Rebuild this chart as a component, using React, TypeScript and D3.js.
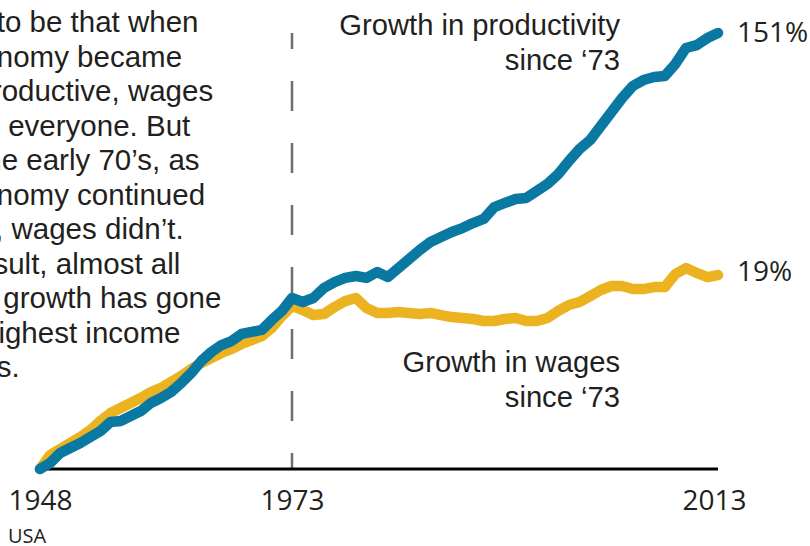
import React, { useEffect, useRef } from "react";
import * as d3 from "d3";

// years shown, 1948..2013
const years: number[] = [
  1948, 1949, 1950, 1951, 1952, 1953, 1954, 1955, 1956, 1957, 1958, 1959, 1960,
  1961, 1962, 1963, 1964, 1965, 1966, 1967, 1968, 1969, 1970, 1971, 1972, 1973,
  1974, 1975, 1976, 1977, 1978, 1979, 1980, 1981, 1982, 1983, 1984, 1985, 1986,
  1987, 1988, 1989, 1990, 1991, 1992, 1993, 1994, 1995, 1996, 1997, 1998, 1999,
  2000, 2001, 2002, 2003, 2004, 2005, 2006, 2007, 2008, 2009, 2010, 2011, 2012,
  2013,
];

// cumulative % change since 1948
const productivity: number[] = [
  0, 3.3, 8.9, 11.7, 14.5, 17.8, 21.2, 26.2, 26.8, 29.5, 32.3, 36.8, 39.6,
  42.9, 47.9, 53.5, 60.2, 65.2, 69.1, 71.3, 75.3, 76.4, 77.5, 83.1, 88.1, 95.3,
  93.1, 95.3, 100.9, 104.2, 106.5, 107.6, 106.5, 109.8, 107.0, 112.0, 117.1, 122.1, 126.5,
  129.3, 132.1, 134.3, 137.1, 139.4, 146.0, 148.3, 150.5, 151.1, 155.0, 158.9, 164.4, 171.7,
  178.4, 183.4, 191.2, 199.0, 206.8, 213.5, 216.8, 218.5, 219.1, 225.8, 234.7, 236.3, 240.2,
  243.0,
];

const wages: number[] = [
  0, 7.8, 11.1, 14.5, 17.8, 21.7, 26.8, 31.2, 34.0, 36.8, 39.6, 42.9, 45.2,
  48.5, 51.8, 55.7, 59.1, 61.9, 64.7, 66.9, 69.7, 71.9, 74.1, 78.6, 85.3, 90.9,
  88.6, 85.8, 86.4, 90.3, 93.6, 95.3, 89.7, 87.0, 87.0, 87.5, 87.0, 86.4, 87.0,
  85.8, 84.7, 84.2, 83.6, 82.5, 82.5, 83.6, 84.2, 82.5, 82.5, 84.2, 88.1, 91.4,
  93.1, 96.4, 99.8, 102.0, 102.0, 100.3, 100.3, 101.4, 101.4, 108.7, 112.0, 109.3, 107.0,
  108.1,
];

const tickYears: number[] = [1948, 1973, 2013];
const endLabels: string[] = ["151%", "19%"];
const seriesLabels: string[][] = [
  ["Growth in productivity", "since \u201873"],
  ["Growth in wages", "since \u201873"],
];
const paragraph: string[] = [
  "It used to be that when",
  "the economy became",
  "more productive, wages",
  "rose for everyone. But",
  "since the early 70\u2019s, as",
  "the economy continued",
  "to grow, wages didn\u2019t.",
  "As a result, almost all",
  "income growth has gone",
  "to the highest income",
  "brackets.",
];

export default function App() {
  const svgRef = useRef<SVGSVGElement>(null);

  useEffect(() => {
    const width = 810;
    const height = 546;
    const svg = d3.select(svgRef.current);
    svg.selectAll("*").remove();
    svg.attr("width", width).attr("height", height);

    const textColor = "#231f20";
    const blue = "#0a79a2";
    const yellow = "#ebb31f";

    // x: the source stretches the post-1973 part slightly
    const x = d3.scaleLinear().domain([1948, 1973, 2013]).range([40, 292, 718]);
    const y = d3.scaleLinear().domain([0, 250]).range([469, 20.5]);

    // intro text, cut off at the left edge like the original
    svg.append("g")
      .selectAll("text")
      .data(paragraph)
      .enter()
      .append("text")
      .attr("x", -100)
      .attr("y", (d, i) => 32 + i * 34.5)
      .attr("font-family", "'Liberation Sans', Arial, sans-serif")
      .attr("font-size", 29.5)
      .attr("fill", textColor)
      .text(d => d);

    // 1973 marker
    svg.append("line")
      .attr("x1", x(1973))
      .attr("x2", x(1973))
      .attr("y1", y(0))
      .attr("y2", 33)
      .attr("stroke", "#6d6e70")
      .attr("stroke-width", 2.5)
      .attr("stroke-dasharray", "30 32")
      .attr("stroke-dashoffset", 14);

    // baseline
    svg.append("line")
      .attr("x1", x(1948))
      .attr("x2", x(2013))
      .attr("y1", y(0))
      .attr("y2", y(0))
      .attr("stroke", "#000")
      .attr("stroke-width", 3);

    const xAxis = svg.append("g")
      .attr("transform", `translate(0, ${y(0)})`)
      .call(d3.axisBottom(x).tickValues(tickYears).tickSize(0).tickFormat(d3.format("d")));
    xAxis.select(".domain").remove();
    xAxis.selectAll("text")
      .attr("y", 41)
      .attr("dy", 0)
      .attr("dx", (d: any) => (d === 2013 ? -4 : 0))
      .attr("font-family", "'Open Sans', sans-serif")
      .attr("font-size", 28)
      .attr("fill", textColor);

    svg.append("text")
      .attr("x", 8)
      .attr("y", 543)
      .attr("font-family", "'Open Sans', sans-serif")
      .attr("font-size", 20)
      .attr("fill", textColor)
      .text("USA");

    const line = d3.line<number>()
      .x((d, i) => x(years[i]))
      .y(d => y(d))
      .curve(d3.curveLinear);

    const series = [wages, productivity];
    const colors = [yellow, blue];
    series.forEach((s, k) => {
      svg.append("path")
        .datum(s)
        .attr("d", line)
        .attr("fill", "none")
        .attr("stroke", colors[k])
        .attr("stroke-width", 10.5)
        .attr("stroke-linejoin", "round")
        .attr("stroke-linecap", "round");
    });

    // end values
    [productivity, wages].forEach((s, k) => {
      svg.append("text")
        .attr("x", x(2013) + 19)
        .attr("y", y(s[s.length - 1]))
        .attr("dy", k === 0 ? 9 : 6)
        .attr("font-family", "'Open Sans', sans-serif")
        .attr("font-size", 28)
        .attr("fill", textColor)
        .text(endLabels[k]);
    });

    // series labels
    const labelBase = [35, 372];
    seriesLabels.forEach((lines, k) => {
      svg.append("text")
        .attr("text-anchor", "end")
        .attr("font-family", "'Liberation Sans', Arial, sans-serif")
        .attr("font-size", 29.2)
        .attr("fill", textColor)
        .selectAll("tspan")
        .data(lines)
        .enter()
        .append("tspan")
        .attr("x", 620)
        .attr("y", (d, i) => labelBase[k] + i * 35)
        .text(d => d);
    });
  }, []);

  return <svg ref={svgRef} style={{ position: "absolute", left: 0, top: 0 }}></svg>;
}
